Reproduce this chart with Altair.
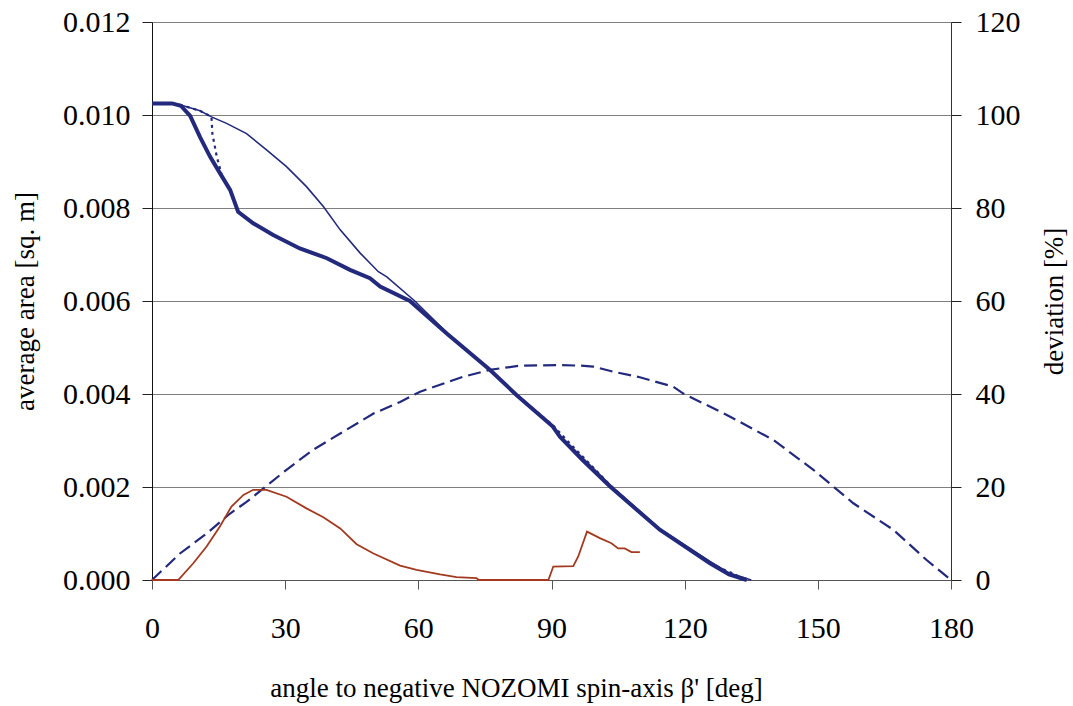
import altair as alt
import pandas as pd

# thick solid line (average area)
thick_x = [0, 4.5, 6.5, 8.6, 10.8, 13.1, 15.3, 17.6, 19.4, 22.8, 27.3, 33.3, 39.4, 44.6, 49.1,
           51.4, 58.1, 66.4, 76.1, 82.1, 90.3, 91.9, 97.0, 103.2, 114.4, 125.7, 130.0, 134.0]
thick_y = [0.01025, 0.01025, 0.01020, 0.00998, 0.00953, 0.00910, 0.00875, 0.00839, 0.00792,
           0.00767, 0.00742, 0.00713, 0.00692, 0.00667, 0.00649, 0.00631, 0.00600, 0.00530,
           0.00452, 0.00398, 0.00330, 0.00308, 0.00258, 0.00201, 0.00108, 0.00036, 0.00012, 0.0]

# thin solid line
thin_x = [0, 4.5, 6.3, 10.8, 13.4, 16.8, 21.3, 25.8, 30.3, 34.8, 38.6, 42.4, 46.9, 51.0, 52.9,
          59.2, 66.4, 76.1, 82.1, 90.3, 92.0, 103.2, 114.4, 125.7, 130.0, 135.0]
thin_y = [0.01025, 0.01025, 0.01022, 0.01009, 0.00996, 0.00982, 0.00960, 0.00925, 0.00889,
          0.00846, 0.00803, 0.00753, 0.00703, 0.00663, 0.00652, 0.00600, 0.00532, 0.00453,
          0.00400, 0.00332, 0.00310, 0.00204, 0.00110, 0.00040, 0.00015, 0.0]

# dotted line
dot_x = [0, 4.5, 6.3, 10.8, 13.4, 13.6, 14.6, 15.8, 17.6, 19.4, 22.8, 27.3, 33.3, 39.4, 44.6,
         49.1, 51.4, 58.1, 66.4, 76.1, 82.1, 90.3, 94.0, 100.0, 103.2, 114.4, 125.7, 134.0]
dot_y = [0.01025, 0.01025, 0.01022, 0.01009, 0.00996, 0.00960, 0.00910, 0.00868, 0.00839,
         0.00792, 0.00767, 0.00742, 0.00713, 0.00692, 0.00667, 0.00649, 0.00631, 0.00600,
         0.00530, 0.00452, 0.00398, 0.00333, 0.00295, 0.00236, 0.00204, 0.00108, 0.00036, 0.0]

# dashed line
dash_x = [0, 6.3, 12.3, 17.6, 21.3, 25.1, 30.3, 36.3, 42.4, 49.9, 55.9, 60.4, 70.1, 76.1, 82.9,
          91.9, 96.4, 99.4, 103.9, 109.9, 117.4, 119.7, 129.5, 140.0, 149.0, 158.0, 167.0,
          174.5, 180.0]
dash_y = [0.0, 0.00057, 0.00100, 0.00143, 0.00168, 0.00197, 0.00237, 0.00280, 0.00315, 0.00358,
          0.00383, 0.00405, 0.00437, 0.00452, 0.00461, 0.00462, 0.00461, 0.00459, 0.00448,
          0.00436, 0.00416, 0.00401, 0.00355, 0.00301, 0.00237, 0.00165, 0.00108, 0.00043, 0.0]

# deviation [%] (right axis)
dev_x = [0, 5.9, 9.3, 12.3, 15.3, 17.9, 20.6, 22.8, 25.8, 30.3, 34.8, 38.6, 42.4, 46.1, 49.9,
         55.9, 59.6, 64.9, 68.6, 73.1, 73.6, 89.3, 90.4, 94.9, 96.0, 98.0, 100.9, 103.5, 105.0,
         106.5, 108.0, 109.9]
dev_y = [0, 0, 3.6, 7.2, 11.5, 15.8, 18.3, 19.4, 19.4, 17.9, 15.4, 13.5, 11.1, 7.7, 5.7,
         3.1, 2.2, 1.2, 0.6, 0.4, 0, 0, 2.9, 3.0, 5.0, 10.4, 9.0, 7.9, 6.8, 6.8, 6.0, 6.0]

navy = "#232A7D"
brown = "#A33A20"
FONT = "Liberation Serif"
LSIZE = 30
TSIZE = 27

common = dict(
    labelFont=FONT, titleFont=FONT, labelFontSize=LSIZE, titleFontSize=TSIZE,
    titleFontWeight="normal", labelColor="#000000", titleColor="#000000",
    labelFlush=False,
)


def frame(xs, ys):
    return pd.DataFrame({"x": xs, "y": ys})


X = alt.X(
    "x:Q",
    scale=alt.Scale(domain=[0, 180], nice=False),
    axis=alt.Axis(
        values=list(range(0, 181, 30)),
        grid=False,
        title="angle to negative NOZOMI spin-axis β' [deg]",
        titleX=364,
        tickSize=9,
        tickColor="#555555",
        domainColor="#555555",
        labelPadding=24,
        titlePadding=32,
        **common,
    ),
)

Yleft = alt.Y(
    "y:Q",
    scale=alt.Scale(domain=[0, 0.012], nice=False),
    axis=alt.Axis(
        values=[0, 0.002, 0.004, 0.006, 0.008, 0.010, 0.012],
        format=".3f",
        title="average area [sq. m]",
        grid=True,
        gridColor="#7f7f7f",
        gridWidth=1.2,
        tickSize=10,
        tickColor="#222222",
        domainColor="#111111",
        labelPadding=12,
        titlePadding=23,
        **common,
    ),
)

Yright = alt.Y(
    "y:Q",
    scale=alt.Scale(domain=[0, 120], nice=False),
    axis=alt.Axis(
        orient="right",
        values=[0, 20, 40, 60, 80, 100, 120],
        title="deviation [%]",
        titleAngle=-90,
        grid=False,
        tickSize=10,
        tickColor="#222222",
        domainColor="#333333",
        labelPadding=14,
        titlePadding=48,
        **common,
    ),
)

dashed = alt.Chart(frame(dash_x, dash_y)).mark_line(
    color=navy, strokeWidth=2.2, strokeDash=[13, 6]
).encode(x=X, y=Yleft, order="x:Q")
thin = alt.Chart(frame(thin_x, thin_y)).mark_line(
    color=navy, strokeWidth=1.6
).encode(x=X, y=Yleft, order="x:Q")
dotted = alt.Chart(frame(dot_x, dot_y)).mark_line(
    color=navy, strokeWidth=2.2, strokeDash=[3, 4]
).encode(x=X, y=Yleft, order="x:Q")
thick = alt.Chart(frame(thick_x, thick_y)).mark_line(
    color=navy, strokeWidth=4
).encode(x=X, y=Yleft, order="x:Q")

left = alt.layer(dashed, thin, dotted, thick)

right = alt.Chart(frame(dev_x, dev_y)).mark_line(
    color=brown, strokeWidth=1.8
).encode(x=X, y=Yright, order="x:Q")

chart = (
    alt.layer(left, right)
    .resolve_scale(y="independent")
    .properties(
        width=799,
        height=558,
        autosize=alt.AutoSizeParams(type="none"),
        padding={"left": 152, "top": 22, "right": 122, "bottom": 126},
        background="white",
    )
    .configure_view(stroke=None)
)

chart.save("out.html", embed_options={"renderer": "svg", "actions": False})
